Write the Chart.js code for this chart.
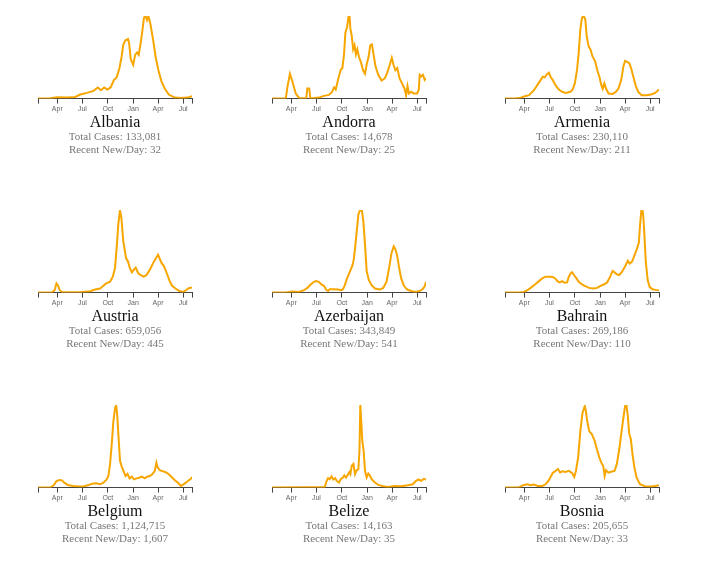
<!DOCTYPE html>
<html>
<head>
    <title>Daily New Cases</title>
    <script src="https://cdn.jsdelivr.net/npm/chart.js"></script>
    <style>
        body {
            margin: 0;
            background-color: #fff;
            font-family: "Liberation Serif", "Times New Roman", serif;
        }

        #grid {
            position: relative;
            width: 720px;
            height: 583px;
        }

        .cell {
            position: absolute;
            width: 156px;
        }

        .cell canvas {
            display: block;
        }

        .name {
            text-align: center;
            font-size: 16px;
            line-height: 16px;
            color: #111;
        }

        .stat {
            text-align: center;
            font-size: 11px;
            line-height: 13px;
            color: #777;
            white-space: nowrap;
        }
    </style>
</head>
<body>
    <div id="grid"></div>

    <script>
// days since 22 Jan 2020, height relative to each country's own peak (0-100)
const albania = [[0,0],[45,0.4],[69,1.6],[105,1.2],[135,2],[153,4.9],[177,6.9],[201,9.4],[217,13.5],[228,10.2],[240,13.5],[251,11],[263,13.5],[275,22.4],[285,25.7],[295,36.7],[303,51],[309,65.3],[317,70.6],[326,72.2],[330,67.3],[336,47.8],[345,40.8],[352,53],[359,55.9],[365,53],[372,67.3],[378,81.6],[384,98],[390,100],[395,95.1],[400,100],[407,91],[417,71.4],[426,51],[436,34.7],[447,21.2],[459,12.2],[474,4.9],[495,1.2],[518,0.8],[542,1.2],[558,2.9]];
const andorra = [[0,0],[50,0],[56,14.4],[65,30],[74,20.6],[86,6.2],[98,0.8],[124,0],[128,12.3],[135,12.3],[139,0],[170,1.2],[188,3.3],[206,4.5],[217,7.8],[225,13.6],[231,11.1],[239,22.6],[249,35],[255,37],[261,53.5],[266,80.2],[272,86.4],[277,98.8],[281,100],[284,84.4],[289,76.1],[294,59.7],[299,64.6],[304,53.5],[309,59.7],[315,50.6],[323,43.2],[330,34.2],[337,30],[343,41.2],[350,50.6],[356,64.6],[362,65.8],[368,53.5],[375,39.1],[385,28.8],[397,21.8],[409,24.7],[418,31.7],[427,41.2],[434,49.4],[440,41.2],[447,34.2],[454,37],[462,24.7],[471,18.5],[480,12.3],[486,4.1],[491,15.2],[496,6.2],[504,8.2],[514,6.2],[526,6.2],[532,11.1],[535,28.8],[541,26.7],[547,28.8],[553,22.6],[558,24.7]];
const armenia = [[0,0],[38,0],[57,1.2],[72,2.9],[87,4.1],[105,10.2],[117,16.3],[129,22.4],[137,26.5],[144,25.7],[153,29.8],[159,31.4],[165,26.5],[173,22.4],[183,16.3],[195,11],[207,8.2],[221,6.9],[237,8.2],[245,11],[253,18.4],[261,34.7],[267,55.1],[273,83.7],[279,98],[285,100],[291,95.9],[296,75.5],[303,63.3],[310,59.2],[317,51],[327,44.9],[334,34.7],[342,26.5],[349,16.3],[354,11.8],[360,18.4],[366,12.2],[375,6.1],[390,5.7],[402,8.2],[411,12.2],[421,22.4],[429,38.8],[435,45.7],[443,44.5],[450,42.9],[457,36.7],[465,26.5],[474,15.1],[483,8.2],[495,4.1],[514,4.1],[532,5.3],[544,6.9],[558,11]];
const austria = [[0,0],[51,0.4],[60,2.9],[67,11.1],[72,9],[79,2.9],[87,0.8],[153,0.4],[189,1.6],[207,3.7],[225,4.9],[237,8.2],[247,11.1],[261,13.1],[271,19.3],[279,29.5],[285,54.1],[291,82.8],[297,100],[302,91],[309,62.3],[319,41.8],[326,37.7],[333,29.5],[340,24.6],[347,27.5],[354,30.3],[363,23.4],[371,21.3],[383,19.3],[393,21.3],[405,27.5],[417,35.7],[429,42.6],[435,45.9],[441,41],[448,35.7],[455,32.8],[462,27.5],[469,21.3],[477,13.9],[486,8.2],[498,4.9],[512,2],[527,0.8],[536,2.9],[546,5.3],[558,6.1]];
const azerbaijan = [[0,0],[50,0],[74,1.2],[98,0.8],[116,2.9],[128,5.7],[140,9.8],[152,13.1],[160,13.9],[170,13.1],[179,9.8],[188,8.2],[196,3.7],[203,2],[209,4.1],[223,4.1],[239,3.7],[251,2.9],[257,4.1],[263,8.2],[271,16.3],[283,26.1],[292,33.5],[296,39.6],[301,53.9],[307,74.3],[313,94.7],[319,100],[326,98.8],[331,86.5],[337,58],[343,26.1],[351,15.1],[361,9],[373,4.9],[391,3.7],[403,5.7],[415,13.1],[424,29.4],[433,47.8],[441,55.9],[447,52.7],[453,45.7],[460,31.4],[468,17.1],[478,8.2],[490,3.7],[507,1.6],[522,0.8],[538,2.4],[547,4.5],[554,8.2],[558,13.1]];
const bahrain = [[0,0],[51,0],[69,0.8],[81,2.9],[93,5.7],[105,9],[113,11.1],[123,13.9],[135,17.2],[147,19.3],[161,19.3],[173,18.9],[183,16.8],[190,13.9],[198,12.3],[207,13.9],[216,11.9],[225,12.3],[231,18.9],[237,23],[243,24.6],[250,21.3],[259,17.2],[267,13.1],[279,9.8],[291,7.8],[305,5.7],[320,4.9],[334,5.7],[346,8.2],[358,9.8],[370,12.3],[381,19.3],[390,26.2],[397,24.6],[405,22.1],[414,21.3],[423,24.6],[435,31.6],[445,38.5],[452,35.2],[461,37.7],[469,45.1],[477,52],[485,60.2],[489,80.7],[494,99.2],[498,100],[501,93],[505,70.5],[510,37.7],[517,15.2],[524,7],[534,4.1],[546,3.3],[558,2.9]];
const belgium = [[0,0],[45,0.4],[57,2.8],[67,8],[77,9.2],[87,8.8],[95,6],[108,3.2],[127,2],[151,1.2],[168,1.6],[184,3.2],[196,4.8],[211,5.2],[225,4],[237,6],[249,10],[255,14],[261,28],[267,52],[273,80],[279,96],[283,100],[287,88],[292,60],[297,32.8],[304,24.8],[311,19.2],[317,14],[324,16.8],[332,11.2],[340,13.2],[348,10],[357,11.2],[366,12],[376,13.2],[387,11.2],[395,13.2],[405,14],[414,16],[423,20],[429,30],[433,24.8],[441,21.2],[450,20],[462,18.8],[472,16.8],[484,12.8],[496,8.8],[508,5.6],[518,2],[527,4],[536,6],[546,8.8],[552,10],[558,12.8]];
const belize = [[0,0],[98,0.4],[191,0.4],[197,7.3],[203,11.4],[209,10.2],[216,13.5],[222,9.8],[229,11.4],[235,7.8],[243,6.1],[249,10.2],[256,11.8],[262,14.7],[268,12.2],[274,15.1],[280,18.8],[284,16.3],[289,26.5],[295,28.6],[301,16.3],[307,21.2],[313,22.4],[317,44.9],[320,100],[324,77.6],[327,57.1],[332,44.9],[337,20.4],[343,12.2],[349,17.1],[355,14.3],[361,10.2],[373,6.1],[385,3.3],[403,1.6],[421,0.8],[444,2],[468,1.6],[492,2.9],[510,4.1],[522,8.2],[531,9.8],[540,8.2],[550,10.6],[558,9.8]];
const bosnia = [[0,0],[51,0.4],[69,3.2],[81,4],[93,2.8],[105,3.6],[118,2],[135,2],[147,4],[159,8.9],[167,14.1],[173,17.7],[183,20.2],[192,22.6],[200,18.1],[207,19.8],[219,19],[231,20.2],[243,17.7],[251,12.9],[257,20.2],[265,36.3],[273,68.5],[281,90.7],[289,98.8],[293,92.7],[298,80.6],[305,68.5],[315,64.5],[325,56.5],[333,46.4],[342,36.3],[349,30.2],[356,26.2],[361,14.1],[366,21],[375,18.1],[387,19.4],[397,20.2],[405,28.2],[414,46.4],[421,64.5],[429,84.7],[435,98.8],[440,100],[445,86.7],[450,65.3],[456,58.5],[462,40.3],[469,24.2],[477,12.1],[489,4],[507,1.6],[526,1.2],[544,2],[558,2.8]];

const countryNames = ['Albania', 'Andorra', 'Armenia', 'Austria', 'Azerbaijan', 'Bahrain', 'Belgium', 'Belize', 'Bosnia'];
const countrySeries = [albania, andorra, armenia, austria, azerbaijan, bahrain, belgium, belize, bosnia];
const totalCases = [133081, 14678, 230110, 659056, 343849, 269186, 1124715, 14163, 205655];
const recentPerDay = [32, 25, 211, 445, 541, 110, 1607, 35, 33];

// axis ends plus first of Apr/Jul/Oct/Jan
const tickDays = [0, 70, 161, 253, 345, 435, 526, 558];
const tickLabels = ['', 'Apr', 'Jul', 'Oct', 'Jan', 'Apr', 'Jul', ''];

const colLeft = [37, 271, 504];
const rowTop = [12, 206, 401];

const grid = document.getElementById('grid');

countryNames.forEach((name, i) => {
  const cell = document.createElement('div');
  cell.className = 'cell';
  cell.style.left = colLeft[i % 3] + 'px';
  cell.style.top = rowTop[Math.floor(i / 3)] + 'px';

  const canvas = document.createElement('canvas');
  canvas.width = 156;
  canvas.height = 102;
  cell.appendChild(canvas);

  cell.insertAdjacentHTML('beforeend',
    `<div class="name">${name}</div>
     <div class="stat">Total Cases: ${totalCases[i].toLocaleString('en-US')}</div>
     <div class="stat">Recent New/Day: ${recentPerDay[i].toLocaleString('en-US')}</div>`);
  grid.appendChild(cell);

  drawChart(canvas, countrySeries[i]);
});

function drawChart(canvas, series) {
  new Chart(canvas.getContext('2d'), {
    type: 'line',
    data: {
      datasets: [{
        data: series.map(p => ({ x: p[0], y: p[1] })),
        borderColor: '#f7a600',
        borderWidth: 2,
        pointRadius: 0,
        tension: 0,
        fill: false
      }]
    },
    options: {
      responsive: false,
      animation: false,
      layout: { padding: { top: 4, left: 0, right: 0, bottom: 0 } },
      plugins: { legend: { display: false }, tooltip: { enabled: false } },
      scales: {
        x: {
          type: 'linear',
          min: 0,
          max: 558,
          afterBuildTicks: axis => {
            axis.ticks = tickDays.map(v => ({ value: v }));
          },
          ticks: {
            autoSkip: false,
            maxRotation: 0,
            padding: 1,
            color: '#666',
            font: { family: 'Liberation Sans', size: 7 },
            callback: (value, index) => tickLabels[index]
          },
          grid: {
            drawOnChartArea: false,
            drawTicks: true,
            tickLength: 5,
            color: '#444'
          },
          border: { display: true, color: '#444', width: 1 }
        },
        y: {
          display: false,
          min: 0,
          max: 100
        }
      }
    }
  });
}
    </script>
</body>
</html>
